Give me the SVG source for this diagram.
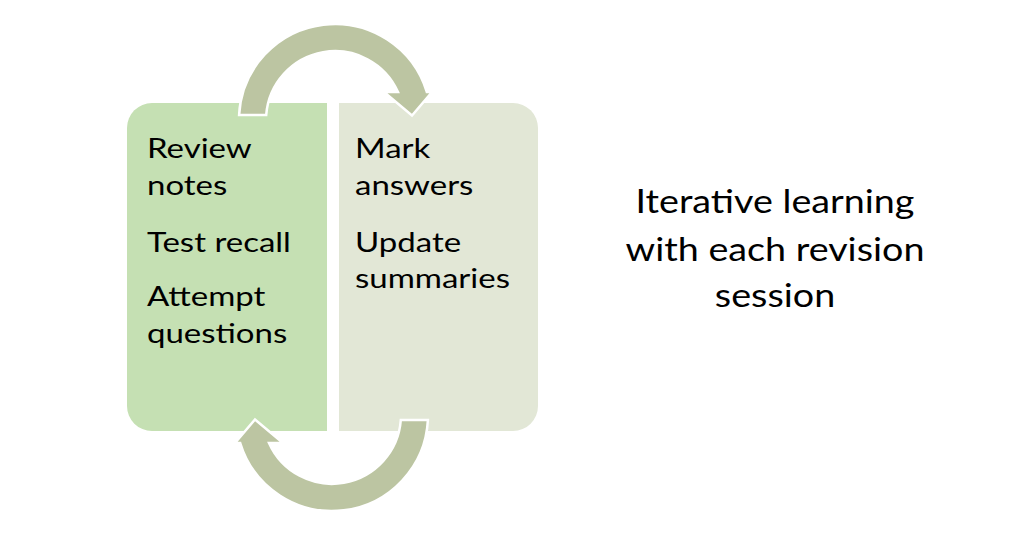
<svg xmlns="http://www.w3.org/2000/svg" width="1024" height="546" viewBox="0 0 1024 546">
  <style>
    .box-l { fill: #C5E0B3; }
    .box-r { fill: #E2E7D6; }
    .arrow { fill: #BCC5A2; stroke: #FFFFFF; stroke-width: 2.5; stroke-linejoin: miter; }
    .t { font-family: Lato, "Liberation Sans", sans-serif; font-size: 27.5px; fill: #000000; }
    .big { font-family: Lato, "Liberation Sans", sans-serif; font-size: 32.5px; fill: #000000; text-anchor: middle; }
  </style>
  <defs>
    <path id="circArrow" d="M 239.1,115 A 96 96 0 0 1 426.8,92 L 432,92 L 412,115.5 L 384,92 L 398,92 A 69 69 0 0 0 266.2,115 Z"/>
  </defs>
  <rect width="1024" height="546" fill="#FFFFFF"/>
  <g id="node-left">
    <path class="box-l" d="M 152,103 H 327 V 431 H 152 A 25 25 0 0 1 127,406 V 128 A 25 25 0 0 1 152,103 Z"/>
    <text class="t" transform="translate(147,158) scale(1.2,1)">Review</text>
    <text class="t" transform="translate(147,195) scale(1.2,1)">notes</text>
    <text class="t" transform="translate(147,252) scale(1.2,1)">Test recall</text>
    <text class="t" transform="translate(147,306) scale(1.2,1)">Attempt</text>
    <text class="t" transform="translate(147,343) scale(1.2,1)">questions</text>
  </g>
  <g id="node-right">
    <path class="box-r" d="M 339,103 H 513 A 25 25 0 0 1 538,128 V 406 A 25 25 0 0 1 513,431 H 339 Z"/>
    <text class="t" transform="translate(355,158) scale(1.2,1)">Mark</text>
    <text class="t" transform="translate(355,195) scale(1.2,1)">answers</text>
    <text class="t" transform="translate(355,252) scale(1.2,1)">Update</text>
    <text class="t" transform="translate(355,288) scale(1.2,1)">summaries</text>
  </g>
  <g id="connectors">
    <use href="#circArrow" class="arrow"/>
    <use href="#circArrow" class="arrow" transform="rotate(180 333.5 267.5)"/>
  </g>
  <g id="caption">
    <text class="big" transform="translate(775,213) scale(1.16,1)">Iterative learning</text>
    <text class="big" transform="translate(775,261) scale(1.16,1)">with each revision</text>
    <text class="big" transform="translate(775,307) scale(1.16,1)">session</text>
  </g>
</svg>
